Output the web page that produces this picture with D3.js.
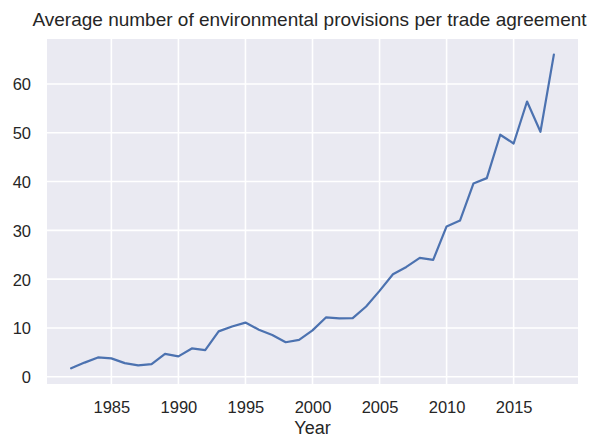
<!DOCTYPE html>
<html><head><meta charset="utf-8">
<script src="https://cdn.jsdelivr.net/npm/d3@7"></script>
<style>body{margin:0;background:#fff}svg{display:block}text{font-family:"Liberation Sans",Arial,sans-serif;fill:#262626}</style>
</head><body><svg id="c" width="592" height="437"></svg>
<script>
const years = [1982,1983,1984,1985,1986,1987,1988,1989,1990,1991,1992,1993,1994,1995,1996,1997,1998,1999,2000,2001,2002,2003,2004,2005,2006,2007,2008,2009,2010,2011,2012,2013,2014,2015,2016,2017,2018];
const values = [1.73,2.9,3.96,3.76,2.8,2.33,2.6,4.7,4.17,5.8,5.45,9.3,10.3,11.1,9.65,8.57,7.08,7.55,9.5,12.15,11.95,12.0,14.4,17.6,21.0,22.5,24.35,23.95,30.8,32.0,39.6,40.7,49.6,47.8,56.4,50.2,66.0];
const xTicks = [1985,1990,1995,2000,2005,2010,2015];
const yTicks = [0,10,20,30,40,50,60];
const title = "Average number of environmental provisions per trade agreement";
const xLabel = "Year";

const svg = d3.select("#c");
const L=47,R=578,T=39,B=384;
const xmin=d3.min(years),xmax=d3.max(years),xp=(xmax-xmin)*0.05;
const ymin=d3.min(values),ymax=d3.max(values),yp=(ymax-ymin)*0.05;
const x=d3.scaleLinear().domain([xmin-xp,xmax+xp]).range([L,R]);
const y=d3.scaleLinear().domain([ymin-yp,ymax+yp]).range([B,T]);

svg.append("rect").attr("x",L).attr("y",T).attr("width",R-L).attr("height",B-T).attr("fill","#EAEAF2");
const g=svg.append("g");
g.selectAll(".vx").data(xTicks).join("line").attr("x1",d=>x(d)).attr("x2",d=>x(d)).attr("y1",T).attr("y2",B).attr("stroke","#fff").attr("stroke-width",1.6);
g.selectAll(".hy").data(yTicks).join("line").attr("y1",d=>y(d)).attr("y2",d=>y(d)).attr("x1",L).attr("x2",R).attr("stroke","#fff").attr("stroke-width",1.6);

const line=d3.line().x((d,i)=>x(years[i])).y(d=>y(d));
svg.append("path").datum(values).attr("d",line).attr("fill","none").attr("stroke","#4C72B0").attr("stroke-width",2.2).attr("stroke-linejoin","round").attr("stroke-linecap","round");

const xAxis=d3.axisBottom(x).tickValues(xTicks).tickFormat(d3.format("d")).tickSize(0).tickPadding(0);
const xa=svg.append("g").attr("transform",`translate(0,${B})`).call(xAxis);
xa.select(".domain").remove();
xa.selectAll("text").attr("dy",null).attr("y",28.5).style("font-size","16.5px").attr("fill","#262626");

const yAxis=d3.axisLeft(y).tickValues(yTicks).tickSize(0).tickPadding(0);
const ya=svg.append("g").attr("transform",`translate(${L},0)`).call(yAxis);
ya.select(".domain").remove();
ya.selectAll("text").attr("x",-16).attr("dy","0.36em").style("font-size","16.5px").attr("fill","#262626");

svg.append("text").attr("x",(L+R)/2).attr("y",433.5).attr("text-anchor","middle").style("font-size","18px").text(xLabel);
svg.append("text").attr("x",(L+R)/2 - 3).attr("y",26).attr("text-anchor","middle").style("font-size","19px").text(title);
</script></body></html>
